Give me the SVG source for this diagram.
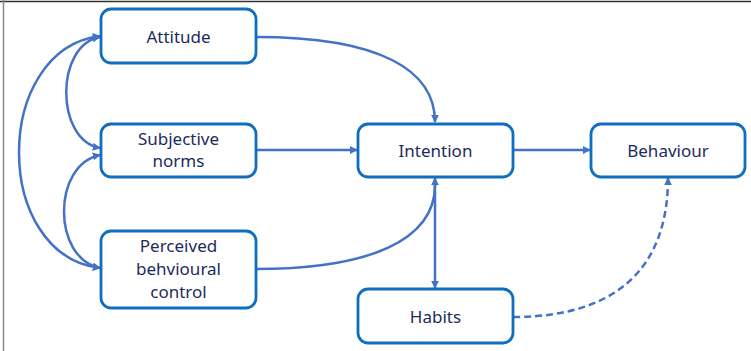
<svg xmlns="http://www.w3.org/2000/svg" width="751" height="351" viewBox="0 0 751 351">
<defs>
<marker id="ah" viewBox="0 0 10 10" refX="9" refY="5" markerWidth="8" markerHeight="8" markerUnits="userSpaceOnUse" orient="auto-start-reverse">
<path d="M0,0 L10,5 L0,10 z" fill="#4472c4"/>
</marker>
<style>
.box{fill:#fff;stroke:#0f6fbe;stroke-width:2.8}
.lbl{font-family:"Noto Sans","Open Sans",sans-serif;font-size:17px;fill:#1c2b5a;text-anchor:middle}
.c{fill:none;stroke:#4472c4;stroke-width:2.5}
</style>
</defs>
<rect x="0" y="0" width="751" height="351" fill="#fff"/>
<line x1="0" y1="1.5" x2="751" y2="1.5" stroke="#333" stroke-width="1.5"/>
<line x1="3.5" y1="0" x2="3.5" y2="351" stroke="#888" stroke-width="1.5"/>
<g id="connectors">
<path class="c" d="M256,37 C380,37 435,70 435,122" marker-end="url(#ah)"/>
<path class="c" d="M256,150 L357,150" marker-end="url(#ah)"/>
<path class="c" d="M256,269 C370,269 435,240 435,185"/>
<path class="c" d="M435,178 L435,288" marker-start="url(#ah)" marker-end="url(#ah)"/>
<path class="c" d="M513,150 L590,150" marker-end="url(#ah)"/>
<path class="c" d="M513,317 C625,317 668,260 668,178" stroke-dasharray="7,4" marker-end="url(#ah)"/>
<path class="c" d="M100,37 C55,45 55,140 100,148" marker-start="url(#ah)" marker-end="url(#ah)"/>
<path class="c" d="M100,155 C52,165 52,258 100,268" marker-start="url(#ah)" marker-end="url(#ah)"/>
<path class="c" d="M100,36 C-8,50 -8,255 100,268" marker-start="url(#ah)" marker-end="url(#ah)"/>
</g>
<g id="attitude"><rect class="box" x="101" y="9" width="155" height="54" rx="10"/><text class="lbl" x="178.5" y="43">Attitude</text></g>
<g id="subjective-norms"><rect class="box" x="101" y="124" width="155" height="53" rx="10"/><text class="lbl" x="178.5" y="145">Subjective</text><text class="lbl" x="178.5" y="167">norms</text></g>
<g id="pbc"><rect class="box" x="101" y="231" width="155" height="77" rx="10"/><text class="lbl" x="178.5" y="252">Perceived</text><text class="lbl" x="178.5" y="275">behvioural</text><text class="lbl" x="178.5" y="298">control</text></g>
<g id="intention"><rect class="box" x="358" y="124" width="155" height="53" rx="10"/><text class="lbl" x="435.5" y="157">Intention</text></g>
<g id="behaviour"><rect class="box" x="591" y="124" width="154" height="53" rx="10"/><text class="lbl" x="668" y="157">Behaviour</text></g>
<g id="habits"><rect class="box" x="358" y="289" width="155" height="54" rx="10"/><text class="lbl" x="435.5" y="323">Habits</text></g>
</svg>
